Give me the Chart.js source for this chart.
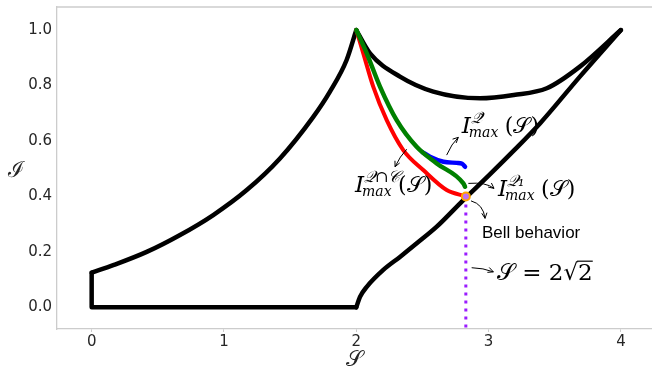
<!DOCTYPE html>
<html>
<head>
<meta charset="utf-8">
<script src="https://cdn.jsdelivr.net/npm/chart.js@4"></script>
<style>
  body { margin: 0; background: #fff; }
</style>
</head>
<body>
<canvas id="region" width="652" height="373"></canvas>
<script>
// tick labels
var sTicks = [0, 1, 2, 3, 4];
var iTicks = [0, 0.2, 0.4, 0.6, 0.8, 1.0];

// black outline of the region
var boxS = [2, 0, 0];
var boxI = [0, 0, 0.125];
var leftS = [0, 0.163, 0.416, 0.668, 0.919, 1.172, 1.423, 1.675, 1.801, 1.927, 2.0];
var leftI = [0.125, 0.152, 0.2, 0.261, 0.333, 0.423, 0.537, 0.687, 0.778, 0.892, 1.0];
var lowS = [2.0, 2.028, 2.079, 2.204, 2.33, 2.457, 2.608, 2.809, 3.0, 3.19, 3.39, 3.69, 4.0];
var lowI = [0.0, 0.038, 0.074, 0.135, 0.182, 0.231, 0.291, 0.387, 0.475, 0.565, 0.664, 0.832, 1.0];
var topS = [2.0, 2.104, 2.33, 2.582, 2.935, 3.19, 3.44, 3.69, 4.0];
var topI = [1.0, 0.916, 0.832, 0.778, 0.754, 0.766, 0.79, 0.868, 1.0];

// I_max curves
var redS = [2.0, 2.053, 2.128, 2.23, 2.355, 2.506, 2.683, 2.828];
var redI = [1.0, 0.916, 0.796, 0.675, 0.567, 0.495, 0.423, 0.40];
var greenS = [2.0, 2.079, 2.179, 2.305, 2.456, 2.608, 2.809, 2.822];
var greenI = [1.0, 0.916, 0.796, 0.675, 0.579, 0.519, 0.447, 0.435];
var blueS = [2.5, 2.557, 2.658, 2.759, 2.80, 2.822];
var blueI = [0.56, 0.543, 0.525, 0.521, 0.518, 0.507];

// bell point and S = 2*sqrt(2) line
var bellS = [2.828];
var bellI = [0.4];
var lineS = [2.828, 2.828];
var lineI = [0.4, -0.078];

function pts(xs, ys) {
    return xs.map(function (x, k) { return { x: x, y: ys[k] }; });
}

function curve(xs, ys, color, width) {
    return {
        data: pts(xs, ys),
        borderColor: color,
        borderWidth: width,
        pointRadius: 0,
        showLine: true,
        cubicInterpolationMode: 'monotone',
        borderCapStyle: 'round',
        borderJoinStyle: 'round'
    };
}

// arrow: tail, control, head (data coords)
function arrow(ctx, xs, ys, p0, c, p1) {
    var x0 = xs.getPixelForValue(p0[0]), y0 = ys.getPixelForValue(p0[1]);
    var cx = xs.getPixelForValue(c[0]), cy = ys.getPixelForValue(c[1]);
    var x1 = xs.getPixelForValue(p1[0]), y1 = ys.getPixelForValue(p1[1]);
    ctx.beginPath();
    ctx.moveTo(x0, y0);
    ctx.quadraticCurveTo(cx, cy, x1, y1);
    ctx.stroke();
    var a = Math.atan2(y1 - cy, x1 - cx);
    ctx.beginPath();
    ctx.moveTo(x1 - 6 * Math.cos(a - 0.45), y1 - 6 * Math.sin(a - 0.45));
    ctx.lineTo(x1, y1);
    ctx.lineTo(x1 - 6 * Math.cos(a + 0.45), y1 - 6 * Math.sin(a + 0.45));
    ctx.stroke();
}

// I^{sup}_{max}(S) label
function mathLabel(ctx, x, y, sup) {
    ctx.font = 'italic 23px "DejaVu Serif"';
    ctx.fillText('I', x, y);
    var w = ctx.measureText('I').width;
    ctx.font = 'italic 16px "DejaVu Serif"';
    ctx.fillText(sup, x + w, y - 10);
    ctx.font = 'italic 14px "DejaVu Serif"';
    ctx.fillText('max', x + w - 2, y + 4);
    var w2 = Math.max(ctx.measureText('max').width, 30);
    ctx.font = '22px "DejaVu Serif"';
    ctx.fillText('(𝒮)', x + w + w2 + 4, y);
}

var annotations = {
    id: 'annotations',
    afterDatasetsDraw: function (chart) {
        var ctx = chart.ctx, xs = chart.scales.x, ys = chart.scales.y, a = chart.chartArea;
        ctx.save();
        // top frame line
        ctx.strokeStyle = '#cccccc';
        ctx.lineWidth = 1.3;
        ctx.beginPath();
        ctx.moveTo(a.left, a.top);
        ctx.lineTo(a.right, a.top);
        ctx.stroke();

        ctx.strokeStyle = '#000';
        ctx.lineWidth = 1;
        arrow(ctx, xs, ys, [2.683, 0.549], [2.72, 0.59], [2.771, 0.613]);
        arrow(ctx, xs, ys, [2.381, 0.570], [2.33, 0.545], [2.293, 0.507]);
        arrow(ctx, xs, ys, [2.847, 0.447], [2.98, 0.452], [3.041, 0.429]);
        arrow(ctx, xs, ys, [2.867, 0.384], [2.96, 0.372], [2.973, 0.321]);
        arrow(ctx, xs, ys, [2.872, 0.143], [2.96, 0.142], [3.036, 0.128]);

        ctx.fillStyle = '#000';
        ctx.textBaseline = 'alphabetic';
        ctx.textAlign = 'left';
        mathLabel(ctx, xs.getPixelForValue(2.797), ys.getPixelForValue(0.627), '𝒬\u0303');
        mathLabel(ctx, xs.getPixelForValue(1.99), ys.getPixelForValue(0.417), '𝒬∩𝒞');
        mathLabel(ctx, xs.getPixelForValue(3.071), ys.getPixelForValue(0.40), '𝒬₁');

        ctx.font = '17px "Liberation Sans"';
        ctx.fillText('Bell behavior', xs.getPixelForValue(2.95), ys.getPixelForValue(0.25));

        // S = 2 sqrt(2), with the bar over the radicand
        var tx = xs.getPixelForValue(3.063), ty = ys.getPixelForValue(0.098);
        ctx.font = '23px "DejaVu Serif"';
        ctx.fillText('𝒮 = 2√2', tx, ty);
        var full = ctx.measureText('𝒮 = 2√2').width;
        var last = ctx.measureText('2').width;
        ctx.lineWidth = 1.2;
        ctx.beginPath();
        ctx.moveTo(tx + full - last - 1, ty - 19);
        ctx.lineTo(tx + full, ty - 19);
        ctx.stroke();

        // y axis title, upright
        ctx.font = '22px "DejaVu Serif"';
        ctx.textAlign = 'center';
        ctx.textBaseline = 'middle';
        ctx.fillStyle = '#262626';
        ctx.fillText('ℐ', 16, 171);
        ctx.restore();
    }
};

var ctx = document.getElementById('region').getContext('2d');
var chart = new Chart(ctx, {
    type: 'scatter',
    data: {
        datasets: [
            {
                data: pts(bellS, bellI),
                pointRadius: 4,
                pointBorderWidth: 2,
                pointBorderColor: '#ffa500',
                pointBackgroundColor: '#c070f0'
            },
            {
                data: pts(lineS, lineI),
                showLine: true,
                pointRadius: 0,
                borderColor: '#9b1cff',
                borderWidth: 3,
                borderDash: [3, 5],
                borderCapStyle: 'butt'
            },
            curve(greenS, greenI, '#008000', 4.5),
            curve(blueS, blueI, '#0000ff', 4.5),
            curve(redS, redI, '#ff0000', 4),
            curve(topS, topI, '#000', 4.5),
            curve(lowS, lowI, '#000', 4.5),
            curve(leftS, leftI, '#000', 4.5),
            curve(boxS, boxI, '#000', 4.5)
        ]
    },
    options: {
        responsive: false,
        animation: false,
        layout: { autoPadding: false, padding: { top: 7, left: 0, right: 0, bottom: 0 } },
        plugins: {
            legend: { display: false },
            tooltip: { enabled: false }
        },
        scales: {
            x: {
                type: 'linear',
                min: -0.262,
                max: 4.235,
                afterBuildTicks: function (scale) {
                    scale.ticks = sTicks.map(function (v) { return { value: v }; });
                },
                afterFit: function (scale) {
                    scale.height = 44;
                    scale.paddingLeft = 0;
                    scale.paddingRight = 0;
                },
                grid: { drawOnChartArea: false, tickLength: 3, color: '#cccccc' },
                border: { color: '#cccccc', width: 1.3 },
                ticks: {
                    padding: 1,
                    color: '#262626',
                    font: { family: 'DejaVu Sans', size: 15 },
                    maxRotation: 0
                },
                title: {
                    display: true,
                    text: '𝒮',
                    color: '#262626',
                    font: { family: 'DejaVu Serif', size: 22 },
                    padding: { top: 0, bottom: 0 }
                }
            },
            y: {
                type: 'linear',
                min: -0.078,
                max: 1.083,
                afterBuildTicks: function (scale) {
                    scale.ticks = iTicks.map(function (v) { return { value: v }; });
                },
                afterFit: function (scale) {
                    scale.width = 57;
                    scale.paddingTop = 0;
                    scale.paddingBottom = 0;
                },
                grid: { drawOnChartArea: false, drawTicks: false },
                border: { color: '#cccccc', width: 1.3 },
                ticks: {
                    padding: 5,
                    color: '#262626',
                    font: { family: 'DejaVu Sans', size: 15 },
                    callback: function (v) { return v.toFixed(1); }
                }
            }
        }
    },
    plugins: [annotations]
});
</script>
</body>
</html>
